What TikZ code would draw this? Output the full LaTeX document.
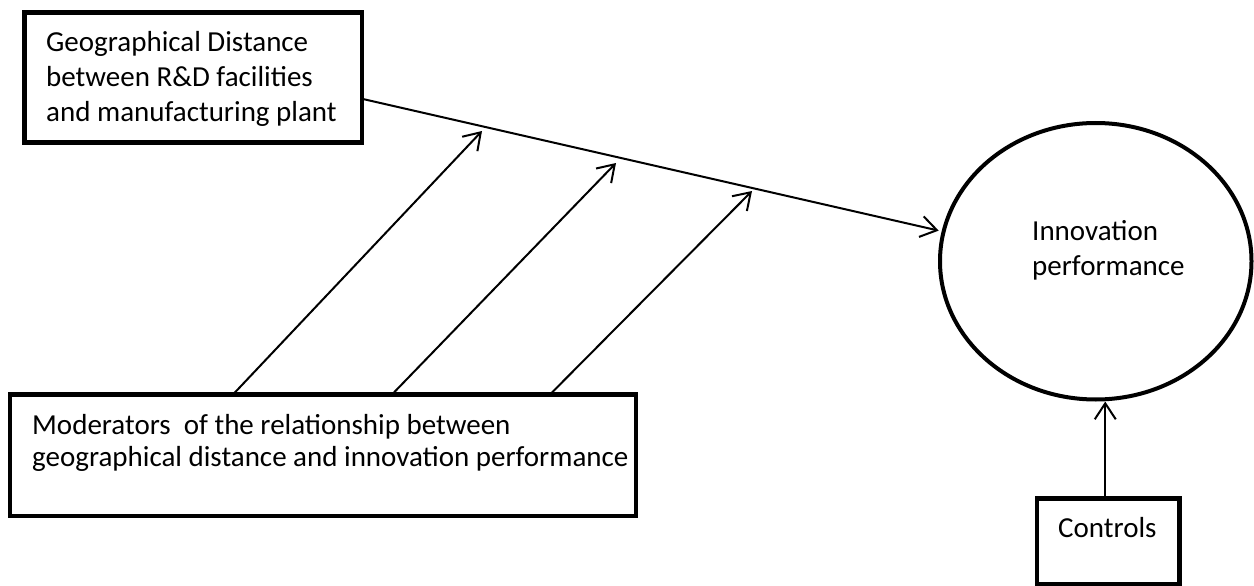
\documentclass[tikz,border=0pt]{standalone}
\usepackage{fontspec}
\setmainfont{Carlito}
\usetikzlibrary{arrows.meta,shapes.geometric,calc}
\newcommand{\mylines}[1]{\begin{tabular}[t]{@{}l@{}}#1\end{tabular}}
\begin{document}
\begin{tikzpicture}[x=1pt,y=-1pt,
  box/.style={draw, line width=4.5pt, rectangle, inner sep=0pt, outer sep=0pt},
  oval/.style={draw, line width=4pt, ellipse, inner sep=0pt},
  lbl/.style={inner sep=0pt, anchor=base west, font=\fontsize{29}{35}\selectfont},
  lblb/.style={lbl, font=\fontsize{29}{32}\selectfont},
  conn/.style={line width=2pt, -{Straight Barb[length=16pt,width=21pt]}}
]
\useasboundingbox (0,0) rectangle (1254,586);
% boxes
\node[box, minimum width=337.5pt, minimum height=130pt] (geo) at (193.25,77.5) {};
\node[box, minimum width=626pt, minimum height=121.5pt] (mod) at (323,455.25) {};
\node[box, minimum width=142.5pt, minimum height=85.5pt] (ctrl) at (1108.25,541.25) {};
\node[oval, minimum width=311.5pt, minimum height=276.5pt] (inno) at (1095.75,261.25) {};
% texts
\node[lbl] (geotext) at (46,52) {\mylines{Geographical Distance\\between R\&D facilities\\and manufacturing plant}};
\node[lblb] (modtext) at (32,434) {\mylines{Moderators~ of the relationship between\\geographical distance and innovation performance}};
\node[lbl] (ctrltext) at (1058,537) {Controls};
\node[lbl] (innotext) at (1032,240) {\mylines{Innovation\\performance}};
% connectors
\coordinate (t1) at (482,131);
\coordinate (t2) at (616,163);
\coordinate (t3) at (752,191);
\draw[conn, shorten >=3pt] ([yshift=-21.3pt]geo.east) -- (inno.169);
\draw[conn] ($(mod.north west)+(223,0)$) -- (t1);
\draw[conn] ($(mod.north west)+(382,0)$) -- (t2);
\draw[conn] ($(mod.north west)+(540,0)$) -- (t3);
\draw[conn] ([xshift=-3pt]ctrl.north) -- ([xshift=-3pt]ctrl.north |- inno.south);
\end{tikzpicture}
\end{document}
